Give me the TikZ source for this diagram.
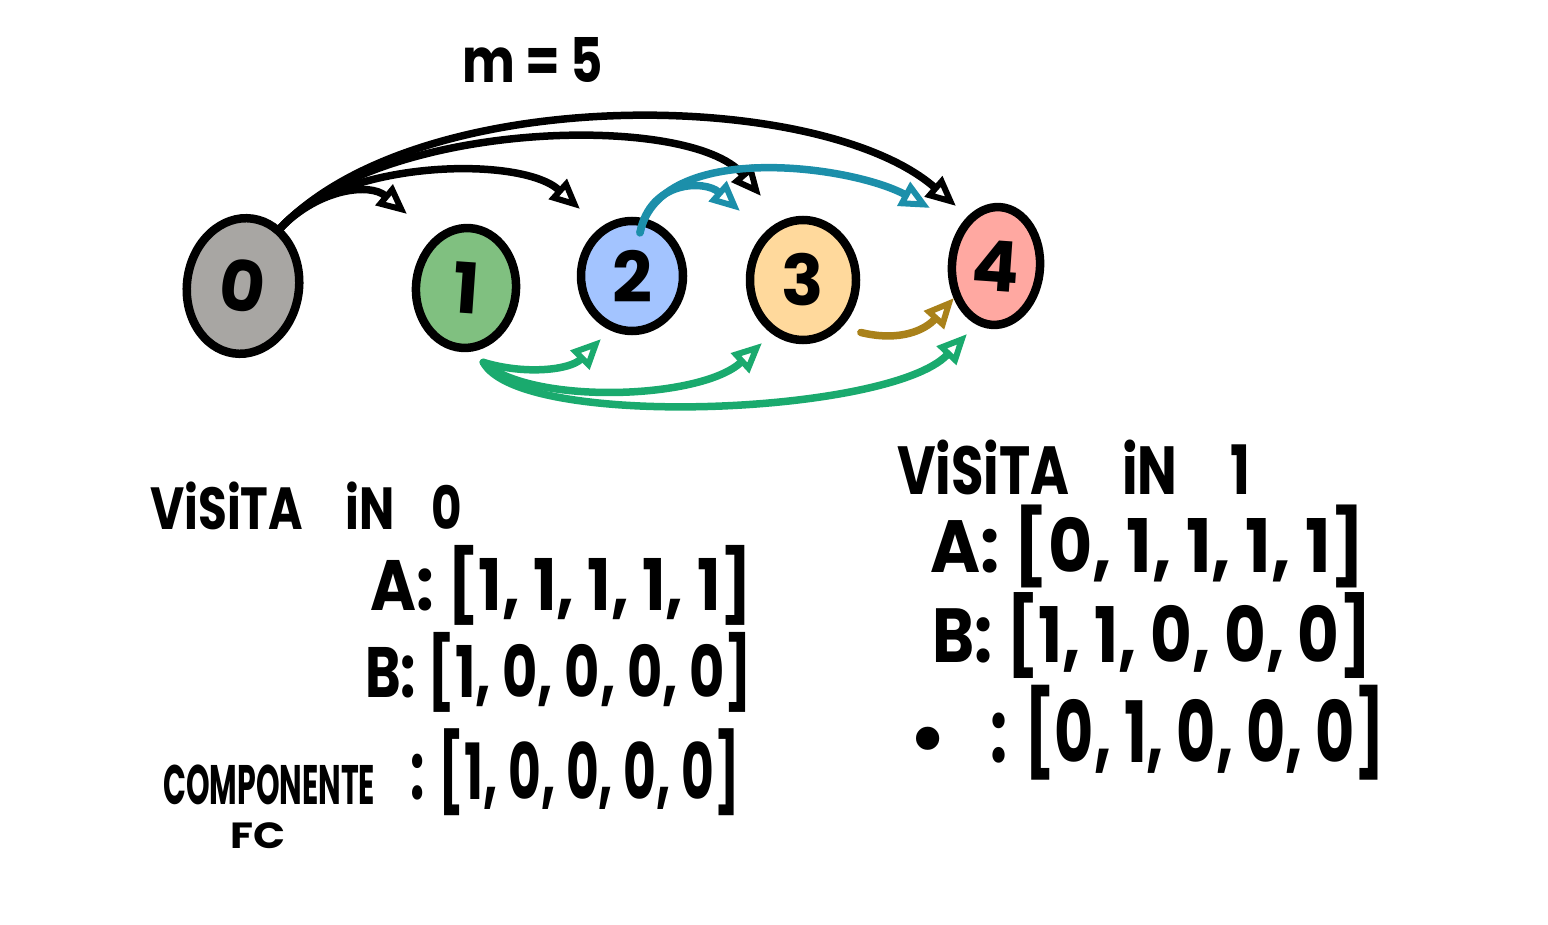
\documentclass[tikz,border=0pt]{standalone}
\usepackage{fontspec}
\setmainfont{Poppins}
\newfontfamily\djv{DejaVu Sans}
\usepackage{graphicx}
\usetikzlibrary{shapes.geometric,arrows.meta}
\definecolor{cgray}{HTML}{A8A6A3}
\definecolor{cgreen}{HTML}{80C080}
\definecolor{cblue}{HTML}{A3C4FF}
\definecolor{corange}{HTML}{FFD99C}
\definecolor{cpink}{HTML}{FFA8A1}
\definecolor{eteal}{HTML}{1C8FAA}
\definecolor{egreen}{HTML}{1AAA6E}
\definecolor{egold}{HTML}{A9811A}
\begin{document}
\begin{tikzpicture}[x=1pt,y=-1pt,
  vtx/.style={ellipse,draw=black,line width=8.5pt,inner sep=0pt,font=\fontsize{70}{70}\selectfont\bfseries},
  conn/.style={line width=7.5pt,line cap=round,line join=round,-{Triangle[open,length=30pt,width=26pt,line width=6pt]}},
  blk/.style={conn,draw=black},
  blu/.style={conn,draw=eteal},
  grn/.style={conn,draw=egreen},
  gld/.style={conn,draw=egold},
  txt/.style={inner sep=0pt,font=\bfseries}
]
\useasboundingbox (0,0) rectangle (1548,925);
% vertices
\node[vtx,fill=cgray,minimum width=112pt,minimum height=136pt,rotate=-8] (n0) at (243,286) {0};
\node[vtx,fill=cgreen,minimum width=100pt,minimum height=120pt,rotate=-4] (n1) at (466,288) {1};
\node[vtx,fill=cblue,minimum width=102pt,minimum height=110pt] (n2) at (632,276) {2};
\node[vtx,fill=corange,minimum width=106pt,minimum height=120pt] (n3) at (803,280) {3};
\node[vtx,fill=cpink,minimum width=88pt,minimum height=118pt,rotate=-4] (n4) at (996,266) {4};
% endpoints
\coordinate (t01) at (407,214);
\coordinate (t02) at (580,209);
\coordinate (t03) at (761,196);
\coordinate (t04) at (956,206);
\coordinate (s2) at ([xshift=8pt,yshift=-16pt]n2.north);
\coordinate (t23) at (740,211);
\coordinate (t24) at (930,208);
\coordinate (s3) at ([xshift=12pt,yshift=-14pt]n3.-40);
\coordinate (t34) at (954,298);
\coordinate (s1) at ([yshift=-14pt]n1.-70);
\coordinate (t12) at (601,339);
\coordinate (t13) at (762,343);
\coordinate (t14) at (967,334);
% black edges from 0
\draw[blk] (n0.65) .. controls (320,188) and (370,183) .. (t01);
\draw[blk] (n0.65) .. controls (340,160) and (520,155) .. (t02);
\draw[blk] (n0.65) .. controls (380,120) and (690,112) .. (t03);
\draw[blk] (n0.65) .. controls (420,82) and (820,88) .. (t04);
% blue edges from 2
\draw[blu] (s2) .. controls (650,180) and (705,180) .. (t23);
\draw[blu] (s2) .. controls (660,140) and (850,165) .. (t24);
% gold edge from 3
\draw[gld] (s3) .. controls (900,342) and (925,330) .. (t34);
% green edges from 1
\draw[grn] (s1) .. controls (525,375) and (570,370) .. (t12);
\draw[grn] (s1) .. controls (530,405) and (700,400) .. (t13);
\draw[grn] (s1) .. controls (520,430) and (890,415) .. (t14);
% texts
\node[txt,anchor=north west] (m) at (462,37) {\resizebox*{141pt}{45pt}{m = 5}};
\node[txt,anchor=north west] (v0) at (150,482) {\resizebox*{312pt}{48pt}{ViSiTA\hspace{0.9em}iN\hspace{0.8em}0}};
\node[txt,anchor=north west] (a0) at (370,545) {\resizebox*{382pt}{80pt}{A: [1, 1, 1, 1, 1]}};
\node[txt,anchor=north west] (b0) at (365,632) {\resizebox*{387pt}{80pt}{B: [1, 0, 0, 0, 0]}};
\node[txt,anchor=north west] (comp) at (163,765) {\resizebox*{212pt}{40pt}{COMPONENTE}};
\node[txt,anchor=north west] (fc) at (230,822) {\resizebox*{55pt}{26pt}{FC}};
\node[txt,anchor=north west] (c0) at (410,728) {\resizebox*{330pt}{87pt}{: [1, 0, 0, 0, 0]}};
\node[txt,anchor=north west] (v1) at (897,440) {\resizebox*{353pt}{55pt}{ViSiTA\hspace{1em}iN\hspace{1em}1}};
\node[txt,anchor=north west] (a1) at (930,505) {\resizebox*{435pt}{83pt}{A: [0, 1, 1, 1, 1]}};
\node[txt,anchor=north west] (b1) at (932,592) {\resizebox*{440pt}{86pt}{B: [1, 1, 0, 0, 0]}};
\node[txt,font=\djv\fontsize{80}{80}\selectfont] (bul) at (928,748) {•};
\node[txt,anchor=north west] (c1) at (990,685) {\resizebox*{395pt}{95pt}{: [0, 1, 0, 0, 0]}};
\end{tikzpicture}
\end{document}
